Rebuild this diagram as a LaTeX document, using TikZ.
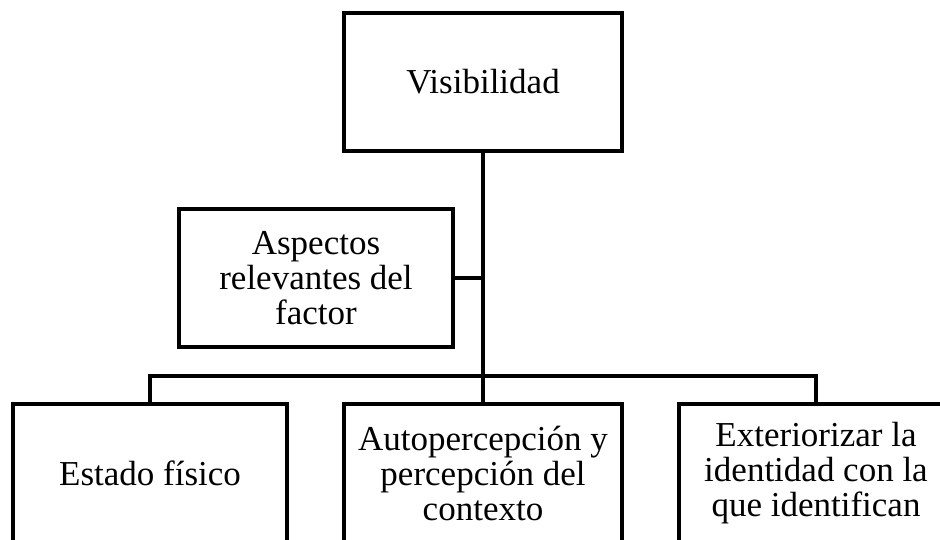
\documentclass[tikz,border=0pt]{standalone}
\usepackage{fontspec}
\setmainfont{Liberation Serif}
\tikzset{
  box/.style={
    draw=black,
    line width=4pt,
    minimum width=274pt,
    minimum height=138pt,
    inner sep=0pt,
    align=center,
    font=\fontsize{35}{35}\selectfont
  },
  box-wide/.style={box, minimum width=278pt},
  link/.style={draw=black, line width=4pt}
}

\begin{document}
\begin{tikzpicture}[x=1pt,y=-1pt]
  \useasboundingbox (0,0) rectangle (940,539);

  % Top and side boxes
  \node[box-wide] (visib) at (483,82) {Visibilidad};
  \node[box] (aspect) at (316,278) {Aspectos\\relevantes del\\factor};
  % Bottom row
  \node[box] (estado) at (150,473) {Estado físico};
  \node[box-wide] (autop) at (483,473) {Autopercepción y\\percepción del\\contexto};
  \node[box] (exter) at (816,473) {Exteriorizar la\\identidad con la\\que identifican};

  % Connectors
  \coordinate (hub) at (483,376);
  \draw[link] (visib.south) -- (hub);
  \draw[link] (aspect.east) -- (aspect.east -| visib.south);
  \draw[link] (estado.north) |- (hub) -| (exter.north);
  \draw[link] (hub) -- (autop.north);
\end{tikzpicture}
\end{document}
